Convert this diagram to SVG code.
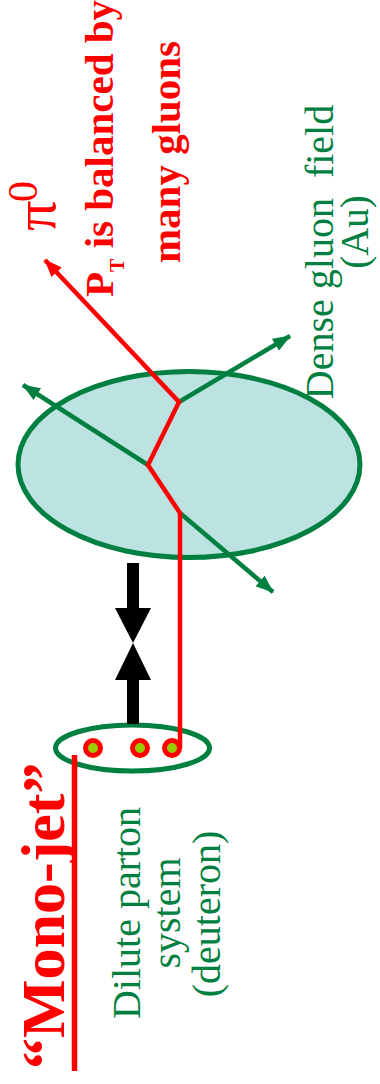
<svg xmlns="http://www.w3.org/2000/svg" width="380" height="1084" viewBox="0 0 380 1084">
  <style>
    .serif { font-family: "Liberation Serif", "Times New Roman", serif; }
    .green-t { fill: #008040; font-size: 40px; }
    .red-b { fill: #ff0000; font-weight: bold; font-size: 41px; }
    .gline { stroke: #008040; stroke-width: 4.5; fill: none; }
    .rline { stroke: #ff0000; stroke-width: 4.5; fill: none; }
    .dot { fill: #99cc00; stroke: #ff0000; stroke-width: 5; }
  </style>
  <defs>
    <marker id="ahG" viewBox="0 0 18 14" refX="17" refY="7" markerWidth="18" markerHeight="14" markerUnits="userSpaceOnUse" orient="auto">
      <path d="M0,0 L18,7 L0,14 z" fill="#008040"/>
    </marker>
    <marker id="ahR" viewBox="0 0 18 14" refX="17" refY="7" markerWidth="18" markerHeight="14" markerUnits="userSpaceOnUse" orient="auto">
      <path d="M0,0 L18,7 L0,14 z" fill="#ff0000"/>
    </marker>
  </defs>
  <rect width="380" height="1084" fill="#ffffff"/>

  <g id="gold-nucleus">
    <ellipse cx="189" cy="464.5" rx="171" ry="93" fill="#bce2e2" stroke="#008040" stroke-width="5"/>
  </g>

  <g id="deuteron">
    <ellipse cx="132.5" cy="748" rx="77" ry="23" fill="none" stroke="#008040" stroke-width="5"/>
  </g>

  <g id="connectors">
    <line class="gline" x1="148" y1="465" x2="23" y2="385" marker-end="url(#ahG)"/>
    <line class="gline" x1="179" y1="402" x2="290" y2="336" marker-end="url(#ahG)"/>
    <line class="gline" x1="180" y1="513" x2="273" y2="592" marker-end="url(#ahG)"/>
    <polyline class="rline" points="180,748 180,513 148,465 179,402 45,260" stroke-linejoin="miter" marker-end="url(#ahR)"/>
    <g id="black-arrows" fill="#000000">
      <rect x="127" y="563" width="12" height="46"/>
      <polygon points="115,608 151,608 133,643"/>
      <polygon points="115,680 151,680 133,643"/>
      <rect x="127" y="679" width="12" height="45"/>
    </g>
    <line x1="74.5" y1="755" x2="74.5" y2="1071" stroke="#ff0000" stroke-width="5.5"/>
  </g>

  <g id="partons">
    <circle class="dot" cx="93" cy="748" r="7.5"/>
    <circle class="dot" cx="140" cy="748" r="7.5"/>
    <circle class="dot" cx="172" cy="748" r="7.5"/>
  </g>

  <g id="label-monojet">
    <text class="serif" transform="translate(64,1069) rotate(-90)" fill="#ff0000" font-weight="bold" font-size="62">“Mono-jet”</text>
  </g>

  <g id="label-deuteron" class="serif green-t" text-anchor="middle">
    <text transform="translate(140,913) rotate(-90)">Dilute parton</text>
    <text transform="translate(180,913) rotate(-90)">system</text>
    <text transform="translate(220,914) rotate(-90)">(deuteron)</text>
  </g>

  <g id="label-au" class="serif green-t" text-anchor="middle">
    <text transform="translate(333,252) rotate(-90)" xml:space="preserve" style="white-space:pre">Dense gluon  field</text>
    <text transform="translate(368,232) rotate(-90)" font-size="39">(Au)</text>
  </g>

  <g id="label-pt" class="serif red-b">
    <text transform="translate(113,297) rotate(-90)">P<tspan font-size="20" dy="11">T</tspan><tspan dy="-11"> is balanced by</tspan></text>
    <text transform="translate(180,152) rotate(-90)" text-anchor="middle">many gluons</text>
  </g>

  <g id="label-pi0" class="serif" fill="#ff0000">
    <text transform="translate(55,231) rotate(-90)" font-size="60">π</text>
    <text transform="translate(37,202) rotate(-90)" font-size="42">0</text>
  </g>
</svg>
